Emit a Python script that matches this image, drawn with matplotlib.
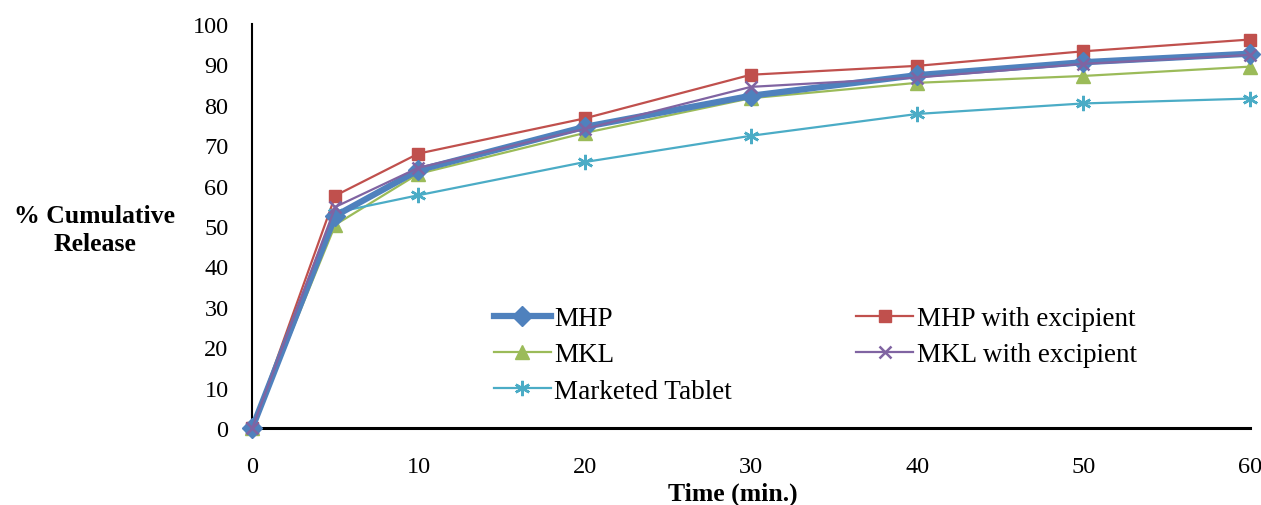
import matplotlib
matplotlib.use('Agg')
import matplotlib.pyplot as plt

# dissolution data
time_min = [0, 5, 10, 20, 30, 40, 50, 60]
mhp = [0, 52.5, 63.8, 74.5, 82.2, 87.3, 90.5, 92.6]
mhp_exc = [0, 57.5, 67.9, 76.6, 87.4, 89.6, 93.2, 96.1]
mkl = [0, 50.3, 62.9, 73.0, 81.6, 85.4, 87.1, 89.4]
mkl_exc = [0, 54.7, 64.4, 74.0, 84.4, 86.7, 90.1, 92.3]
marketed = [0, 53.3, 57.6, 65.8, 72.3, 77.7, 80.3, 81.5]

plt.rcParams['font.family'] = ['Liberation Serif', 'DejaVu Serif']

fig = plt.figure(figsize=(12.61, 5.06), dpi=100)
ax = fig.add_axes([0.2, 0.152, 0.791, 0.799])

ax.plot(time_min, mhp, color='#4F81BD', lw=4.5, marker='D', ms=10,
        label='MHP', clip_on=False, zorder=5)
ax.plot(time_min, mhp_exc, color='#C0504D', lw=1.6, marker='s', ms=9,
        label='MHP with excipient', clip_on=False, zorder=4)
ax.plot(time_min, mkl, color='#9BBB59', lw=1.6, marker='^', ms=10,
        label='MKL', clip_on=False, zorder=4)
ax.plot(time_min, mkl_exc, color='#8064A2', lw=1.6, marker='x', ms=9, mew=1.8,
        label='MKL with excipient', clip_on=False, zorder=6)
ax.plot(time_min, marketed, color='#4BACC6', lw=1.6, marker=(6, 2, 0), ms=11, mew=1.8,
        label='Marketed Tablet', clip_on=False, zorder=4)

ax.set_xlim(0, 60)
ax.set_ylim(0, 100)
ax.set_xticks([0, 10, 20, 30, 40, 50, 60])
ax.set_yticks(range(0, 101, 10))
ax.tick_params(length=0, labelsize=17.5)
ax.tick_params(axis='x', pad=20)
ax.tick_params(axis='y', pad=17)
for s in ['top', 'right']:
    ax.spines[s].set_visible(False)
ax.spines['left'].set_linewidth(1.5)
ax.spines['bottom'].set_linewidth(2.2)

fig.text(0.075, 0.545, '% Cumulative\nRelease', ha='center', va='center',
         fontsize=18.5, fontweight='bold', linespacing=1.3)
fig.text(0.581, 0.024, 'Time (min.)', ha='center', va='center',
         fontsize=18.5, fontweight='bold')

h, l = ax.get_legend_handles_labels()
order = [0, 2, 4, 1, 3]
leg = fig.legend([h[i] for i in order], [l[i] for i in order], ncol=2,
                 loc='upper left', bbox_to_anchor=(0.381, 0.42), frameon=False,
                 fontsize=19.5, handlelength=2.1, handletextpad=0.12,
                 columnspacing=4.6, labelspacing=0.42, borderpad=0)

fig.savefig('out.png', dpi=100)
